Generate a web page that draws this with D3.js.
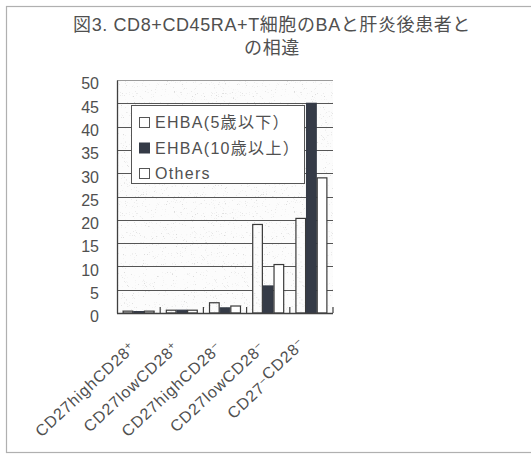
<!DOCTYPE html>
<html>
<head>
<meta charset="utf-8">
<script src="https://cdn.jsdelivr.net/npm/d3@7/dist/d3.min.js"></script>
<style>
  html, body { margin: 0; padding: 0; background: #fff; }
  svg { display: block; }
  text { font-family: "Liberation Sans", Arial, "Noto Sans CJK JP", sans-serif; fill: #505050; }
</style>
</head>
<body>
<svg id="chart" width="531" height="454"></svg>
<script>
// Cell populations (x axis)
const categories = ["CD27highCD28+", "CD27lowCD28+", "CD27highCD28-", "CD27lowCD28-", "CD27-CD28-"];
// Series
const seriesNames = ["EHBA(5歳以下）", "EHBA(10歳以上）", "Others"];
const ehbaYoung = [0.4, 0.6, 2.2, 19.0, 20.3];
const ehbaOld   = [0.3, 0.6, 1.1, 5.8, 45.0];
const others    = [0.4, 0.6, 1.5, 10.4, 29.0];
// Y axis ticks
const yTicks = [0, 5, 10, 15, 20, 25, 30, 35, 40, 45, 50];
const titleLines = ["図3.  CD8+CD45RA+T細胞のBAと肝炎後患者と", "の相違"];

const seriesValues = [ehbaYoung, ehbaOld, others];

const svg = d3.select("#chart");
const plot = { left: 117, right: 333, top: 80, bottom: 313 };

// Light stipple texture for the plot background and the first series
const defs = svg.append("defs");
const f = defs.append("filter").attr("id", "speckle")
  .attr("x", 0).attr("y", 0).attr("width", "100%").attr("height", "100%");
f.append("feTurbulence").attr("type", "fractalNoise").attr("baseFrequency", 0.9)
  .attr("numOctaves", 2).attr("seed", 7).attr("result", "n");
f.append("feColorMatrix").attr("in", "n").attr("type", "matrix")
  .attr("values", "0 0 0 0 0.72  0 0 0 0 0.72  0 0 0 0 0.72  7 0 0 0 -4.6")
  .attr("result", "dots");
f.append("feComposite").attr("in", "dots").attr("in2", "SourceGraphic").attr("operator", "in");

const pat = defs.append("pattern").attr("id", "stipple")
  .attr("patternUnits", "userSpaceOnUse").attr("width", 120).attr("height", 120);
pat.append("rect").attr("width", 120).attr("height", 120).attr("fill", "#fcfcfc");
pat.append("rect").attr("width", 120).attr("height", 120).attr("fill", "#000").attr("filter", "url(#speckle)");

// Outer frame
svg.append("rect").attr("x", 6.5).attr("y", 6.5).attr("width", 560).attr("height", 446)
  .attr("fill", "none").attr("stroke", "#b0b0b0").attr("stroke-width", 1.2);

// Title
svg.append("text").attr("x", 272).attr("y", 31).attr("text-anchor", "middle")
  .style("font-size", "18px").style("letter-spacing", "0.6px")
  .selectAll("tspan").data(titleLines).join("tspan")
  .attr("x", 272).attr("dy", (d, i) => i === 0 ? 0 : 23).text(d => d);

// Scales
const x0 = d3.scaleBand().domain(categories).range([plot.left, plot.right])
  .paddingInner(0.26).paddingOuter(0.13);
const x1 = d3.scaleBand().domain(d3.range(seriesNames.length)).range([0, x0.bandwidth()]);
const y = d3.scaleLinear().domain([0, 50]).range([plot.bottom, plot.top]);

// Plot background
svg.append("rect").attr("x", plot.left).attr("y", plot.top)
  .attr("width", plot.right - plot.left).attr("height", plot.bottom - plot.top)
  .attr("fill", "url(#stipple)");

// Gridlines
svg.append("g").selectAll("line").data(yTicks.filter(t => t > 0)).join("line")
  .attr("x1", plot.left).attr("x2", plot.right)
  .attr("y1", d => Math.round(y(d)) + 0.5).attr("y2", d => Math.round(y(d)) + 0.5)
  .attr("stroke", d => d === 50 ? "#9a9a9a" : "#555").attr("stroke-width", 1);

// Y axis
const yAxis = d3.axisLeft(y).tickValues(yTicks).tickSize(0).tickPadding(18);
const gy = svg.append("g").attr("transform", `translate(${plot.left},0)`).call(yAxis);
gy.select(".domain").attr("stroke", "#404040").attr("stroke-width", 1.3);
gy.selectAll("text").style("font-size", "16px").attr("fill", "#505050")
  .attr("dy", "0.55em");

// Bars
const fills = ["url(#stipple)", "#353b47", "#ffffff"];
const groups = svg.append("g").selectAll("g").data(categories).join("g")
  .attr("transform", d => `translate(${x0(d)},0)`);
groups.selectAll("rect")
  .data((d, ci) => seriesValues.map((vals, si) => ({ si, v: vals[ci] })))
  .join("rect")
  .attr("x", d => x1(d.si) + 0.5)
  .attr("y", d => y(d.v))
  .attr("width", x1.bandwidth() - 1)
  .attr("height", d => y(0) - y(d.v))
  .attr("fill", d => fills[d.si])
  .attr("stroke", d => d.si === 1 ? "#353b47" : "#3a3a3a")
  .attr("stroke-width", 1.2);

// X axis with inward ticks at category boundaries
const bounds = categories.map(c => x0(c) - x0.step() * x0.paddingInner() / 2).concat([plot.right]);
svg.append("line").attr("x1", plot.left).attr("x2", plot.right)
  .attr("y1", plot.bottom + 0.5).attr("y2", plot.bottom + 0.5)
  .attr("stroke", "#404040").attr("stroke-width", 1.3);
svg.append("g").selectAll("line").data(bounds.slice(1)).join("line")
  .attr("x1", d => d).attr("x2", d => d)
  .attr("y1", plot.bottom).attr("y2", plot.bottom - 6)
  .attr("stroke", "#404040").attr("stroke-width", 1.2);

// Category labels with raised +/− signs
const labels = svg.append("g").selectAll("text").data(categories).join("text")
  .attr("transform", d => `translate(${x0(d) + x0.bandwidth() / 2 - 2},${plot.bottom + 36}) rotate(-43)`)
  .attr("text-anchor", "end")
  .style("font-size", "16px").style("letter-spacing", "0.9px");
labels.each(function (d) {
  const t = d3.select(this);
  const parts = d.split(/([+-])/).filter(s => s.length);
  parts.forEach(p => {
    if (p === "+" || p === "-") {
      t.append("tspan").attr("dy", "-0.45em").style("font-size", "11px")
        .text(p === "+" ? "+" : "−");
      t.append("tspan").attr("dy", "0.45em").text("");
    } else {
      t.append("tspan").text(p);
    }
  });
});

// Legend
const lg = svg.append("g").attr("transform", "translate(131.5,105.5)");
lg.append("rect").attr("width", 173).attr("height", 78)
  .attr("fill", "#ffffff").attr("stroke", "#555").attr("stroke-width", 1);
const legendFill = ["#ffffff", "#353b47", "#ffffff"];
const items = lg.selectAll("g").data(seriesNames).join("g")
  .attr("transform", (d, i) => `translate(8,${12 + i * 25.5})`);
items.append("rect").attr("width", 10).attr("height", 10)
  .attr("fill", (d, i) => legendFill[i]).attr("stroke", (d, i) => i === 1 ? "#353b47" : "#555")
  .attr("stroke-width", 1);
items.append("text").attr("x", 15.5).attr("y", 5).attr("dy", "0.36em")
  .style("font-size", "16px").style("letter-spacing", "1.3px").text(d => d);
</script>
</body>
</html>
